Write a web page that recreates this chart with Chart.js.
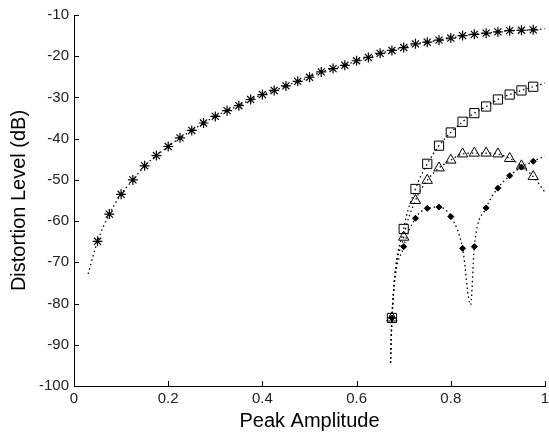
<!DOCTYPE html>
<html>
<head>
<meta charset="utf-8">
<title>Distortion level vs peak amplitude</title>
<script src="https://cdn.jsdelivr.net/npm/chart.js@4.4.2/dist/chart.umd.min.js"></script>
<style>
  html, body { margin: 0; padding: 0; background: #fff; }
</style>
</head>
<body>
<canvas id="distortionChart" width="549" height="436"></canvas>
<script>
// values (x = peak amplitude, y = dB)
const starX = [0.05, 0.075, 0.1, 0.125, 0.15, 0.175, 0.2, 0.225, 0.25, 0.275,
  0.3, 0.325, 0.35, 0.375, 0.4, 0.425, 0.45, 0.475, 0.5, 0.525,
  0.55, 0.575, 0.6, 0.625, 0.65, 0.675, 0.7, 0.725, 0.75, 0.775,
  0.8, 0.825, 0.85, 0.875, 0.9, 0.925, 0.95, 0.975];
const starY = [-64.9, -58.3, -53.5, -50.0, -46.6, -44.1, -41.9, -39.8, -38.0, -36.2,
  -34.6, -33.2, -32.0, -30.5, -29.3, -28.3, -27.2, -26.1, -25.1, -23.8,
  -23.0, -22.2, -21.1, -20.3, -19.3, -18.6, -17.9, -17.0, -16.6, -16.1,
  -15.6, -15.0, -14.7, -14.4, -14.1, -13.8, -13.7, -13.6];
const starLineStart = { x: 0.03, y: -72.8 };
const starLineEnd = { x: 1.0, y: -13.3 };

const highX = [0.675, 0.7, 0.725, 0.75, 0.775, 0.8, 0.825, 0.85, 0.875, 0.9, 0.925, 0.95, 0.975];
const squareY = [-83.5, -61.9, -52.2, -46.1, -41.7, -38.5, -35.9, -33.8, -32.2, -30.5, -29.3, -28.3, -27.4];
const triangleY = [-83.5, -63.9, -55.0, -50.1, -47.1, -45.2, -43.7, -43.5, -43.5, -43.7, -44.8, -46.6, -49.2];
const dotY = [-83.5, -66.2, -59.3, -56.9, -56.6, -58.9, -66.6, -66.2, -56.8, -52.0, -49.0, -46.9, -45.5];

const highLineStart = { x: 0.672, y: -94.4 };
const squareLineEnd = { x: 1.0, y: -26.5 };
const triangleLineEnd = { x: 1.0, y: -53.0 };
const dotNotch = { x: 0.842, y: -80.3 };
const dotLineEnd = { x: 1.0, y: -44.2 };

const xTicks = [0, 0.2, 0.4, 0.6, 0.8, 1];
const yTicks = [-100, -90, -80, -70, -60, -50, -40, -30, -20, -10];

const toPoints = (xs, ys) => xs.map((x, i) => ({ x: x, y: ys[i] }));
const byX = (a, b) => a.x - b.x;

// matlab style ticks pointing into the plot
const inwardTicks = {
  id: 'inwardTicks',
  afterDraw(chart) {
    const { ctx, chartArea, scales } = chart;
    ctx.save();
    ctx.strokeStyle = '#000';
    ctx.lineWidth = 1;
    ctx.beginPath();
    xTicks.forEach(v => {
      const px = Math.round(scales.x.getPixelForValue(v)) + 0.5;
      ctx.moveTo(px, chartArea.bottom);
      ctx.lineTo(px, chartArea.bottom - 5);
    });
    yTicks.forEach(v => {
      const py = Math.round(scales.y.getPixelForValue(v)) + 0.5;
      ctx.moveTo(chartArea.left, py);
      ctx.lineTo(chartArea.left + 5, py);
    });
    ctx.stroke();
    ctx.restore();
  }
};

const dotted = {
  showLine: true,
  pointRadius: 0,
  borderColor: '#000',
  borderWidth: 1.3,
  borderDash: [1.5, 3],
  cubicInterpolationMode: 'monotone',
  fill: false,
  order: 2
};
const marker = {
  showLine: false,
  borderColor: '#000',
  backgroundColor: 'rgba(0,0,0,0)',
  borderWidth: 1,
  order: 1
};

new Chart(document.getElementById('distortionChart'), {
  type: 'scatter',
  data: {
    datasets: [
      { ...dotted, data: [starLineStart, ...toPoints(starX, starY), starLineEnd] },
      { ...dotted, data: [highLineStart, ...toPoints(highX, squareY), squareLineEnd] },
      { ...dotted, data: [highLineStart, ...toPoints(highX, triangleY), triangleLineEnd] },
      { ...dotted, data: [highLineStart, ...toPoints(highX, dotY), dotNotch, dotLineEnd].sort(byX) },
      { ...marker, data: toPoints(starX, starY), pointStyle: 'star', pointRadius: 5, borderWidth: 1.2 },
      { ...marker, data: toPoints(highX, squareY), pointStyle: 'rect', pointRadius: 6.5 },
      { ...marker, data: toPoints(highX, triangleY), pointStyle: 'triangle', pointRadius: 6 },
      { ...marker, data: toPoints(highX, dotY), pointStyle: 'rectRot', pointRadius: 3, backgroundColor: '#000' }
    ]
  },
  options: {
    responsive: false,
    animation: false,
    events: [],
    layout: {
      autoPadding: false,
      padding: { top: 15, right: 4, left: 0, bottom: 0 }
    },
    plugins: {
      legend: { display: false },
      tooltip: { enabled: false }
    },
    scales: {
      x: {
        type: 'linear',
        min: 0,
        max: 1,
        afterFit: scale => {
          scale.height = 50;
          scale.paddingLeft = 0;
          scale.paddingRight = 0;
        },
        afterBuildTicks: scale => { scale.ticks = xTicks.map(v => ({ value: v })); },
        grid: { display: true, drawOnChartArea: false, drawTicks: false },
        border: { display: true, color: '#000', width: 1 },
        ticks: {
          padding: 4,
          color: '#222',
          font: { family: '"Liberation Sans", Arial, sans-serif', size: 15 },
          callback: v => String(v)
        },
        title: {
          display: true,
          text: 'Peak Amplitude',
          color: '#000',
          padding: { top: 0, bottom: 3 },
          font: { family: '"Liberation Sans", Arial, sans-serif', size: 20 }
        }
      },
      y: {
        type: 'linear',
        min: -100,
        max: -10,
        afterFit: scale => {
          scale.width = 74;
          scale.paddingTop = 0;
          scale.paddingBottom = 0;
        },
        afterBuildTicks: scale => { scale.ticks = yTicks.map(v => ({ value: v })); },
        grid: { display: true, drawOnChartArea: false, drawTicks: false },
        border: { display: true, color: '#000', width: 1 },
        ticks: {
          padding: 5,
          color: '#222',
          font: { family: '"Liberation Sans", Arial, sans-serif', size: 15 },
          callback: v => String(v)
        },
        title: {
          display: true,
          text: 'Distortion Level (dB)',
          color: '#000',
          padding: { top: 7, bottom: 0 },
          font: { family: '"Liberation Sans", Arial, sans-serif', size: 20 }
        }
      }
    }
  },
  plugins: [inwardTicks]
});
</script>
</body>
</html>
